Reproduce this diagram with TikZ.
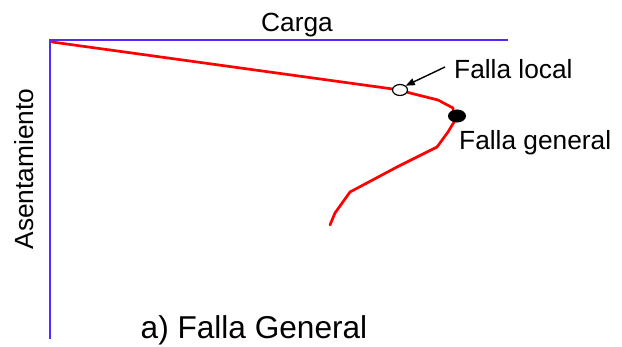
\documentclass[tikz,border=0pt]{standalone}
\usepackage{fontspec}
\setmainfont{Liberation Sans}
\usetikzlibrary{arrows.meta,shapes.geometric}
\definecolor{axisblue}{RGB}{85,40,255}
\definecolor{curvered}{RGB}{255,0,0}
\tikzset{
  axisline/.style={draw=axisblue,line width=1.8pt},
  curveline/.style={draw=curvered,line width=2.7pt,line join=round,line cap=round},
  lbl/.style={inner sep=0pt,font=\fontsize{26.3}{30}\selectfont},
  pointopen/.style={ellipse,draw=black,fill=white,line width=1.2pt,minimum width=15pt,minimum height=11pt,inner sep=0pt},
  pointfull/.style={ellipse,draw=black,fill=black,line width=1pt,minimum width=17pt,minimum height=12pt,inner sep=0pt},
  pointer/.style={draw=black,line width=1.4pt,-{Triangle[length=9pt,width=7pt]}}
}
\begin{document}
\begin{tikzpicture}[x=1pt,y=-1pt]
\useasboundingbox (0,0) rectangle (622,347);
% axes
\coordinate (o) at (50,40);
\coordinate (xend) at (508,40);
\coordinate (yend) at (50,339);
\draw[axisline] (xend) -- (o) -- (yend);
% curve
\coordinate (c0) at (52,42);
\coordinate (c1) at (400,90);
\draw[curveline] (c0) -- (c1) -- (410,93) -- (438,100) -- (453,108) -- (454,122) -- (448,132) -- (437,147) -- (397,167) -- (350,192) -- (335,213) -- (330,225);
% points
\node[pointopen] (loc) at (400,90) {};
\node[pointfull] (gen) at (457,116) {};
% labels
\node[lbl,anchor=base] (carga) at (297,32) {Carga};
\node[lbl,anchor=base,rotate=90] (asen) at (34,169) {Asentamiento};
\node[lbl,anchor=base west] (flocal) at (454,79) {Falla local};
\node[lbl,anchor=base west] (fgen) at (459,150) {Falla general};
\node[inner sep=0pt,anchor=base,font=\fontsize{31.6}{36}\selectfont] (title) at (254,339) {a) Falla General};
% pointer
\coordinate (ptail) at (445,67);
\draw[pointer] (ptail) -- (loc.north east);
\end{tikzpicture}
\end{document}
